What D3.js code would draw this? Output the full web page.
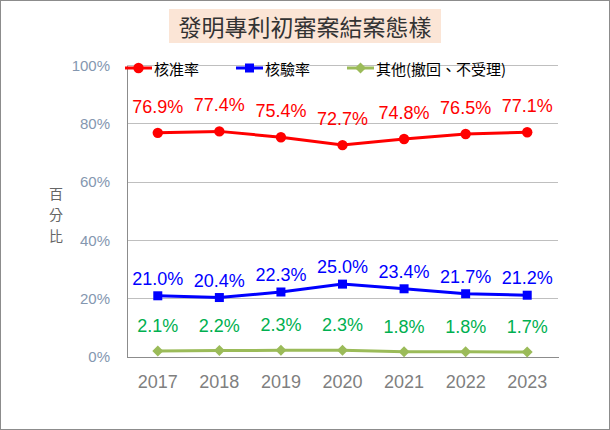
<!DOCTYPE html>
<html><head><meta charset="utf-8">
<script src="https://cdn.jsdelivr.net/npm/d3@7/dist/d3.min.js"></script>
<style>body{margin:0;background:#fff;}svg{display:block;}</style>
</head><body>
<svg id="chart" width="610" height="430"></svg>
<script>
const years = ["2017","2018","2019","2020","2021","2022","2023"];
const approveRate = [76.9,77.4,75.4,72.7,74.8,76.5,77.1];
const rejectRate = [21.0,20.4,22.3,25.0,23.4,21.7,21.2];
const otherRate = [2.1,2.2,2.3,2.3,1.8,1.8,1.7];
const yTicks = [0,20,40,60,80,100];
const seriesNames = ["核准率","核驗率","其他(撤回、不受理)"];
const titleText = "發明專利初審案結案態樣";
const yTitle = ["百","分","比"];

const svg = d3.select("#chart");
const W=610,H=430;
const m={l:127,r:52,t:65.5,b:73};
const x = d3.scaleBand().domain(years).range([m.l, W-m.r]).padding(0);
const y = d3.scaleLinear().domain([0,100]).range([H-m.b, m.t]);
const cx = d => x(d)+x.bandwidth()/2;
const num = "'Liberation Sans', Arial, sans-serif";
const cjk = "'Noto Sans CJK TC', 'Noto Sans CJK SC', sans-serif";

// outer border
svg.append("rect").attr("x",0.5).attr("y",0.5).attr("width",W-1).attr("height",H-1)
  .attr("fill","#fff").attr("stroke","#8c8c8c").attr("stroke-width",1);

// title
const tg = svg.append("g");
tg.append("rect").attr("x",169).attr("y",9).attr("width",272).attr("height",34).attr("fill","#FBE5D6");
tg.append("text").attr("x",305).attr("y",26).attr("text-anchor","middle").attr("dominant-baseline","central")
  .attr("font-family",cjk).attr("font-size",23).attr("fill","#333").text(titleText);

// gridlines
svg.append("g").selectAll("line").data(yTicks.filter(t=>t>0)).join("line")
  .attr("x1",m.l).attr("x2",W-m.r).attr("y1",d=>y(d)).attr("y2",d=>y(d))
  .attr("stroke","#bfbfbf").attr("stroke-width",1).attr("shape-rendering","crispEdges");

// y axis
const ya = svg.append("g").attr("transform",`translate(${m.l},0)`)
  .call(d3.axisLeft(y).tickValues(yTicks).tickSize(0).tickPadding(17).tickFormat(d=>d+"%"));
ya.select(".domain").attr("stroke","#8c8c8c").attr("shape-rendering","crispEdges");
ya.selectAll("text").attr("font-family",num).attr("font-size",15).attr("fill","#8497B0");

// x axis
const xa = svg.append("g").attr("transform",`translate(0,${H-m.b})`)
  .call(d3.axisBottom(x).tickSize(0).tickPadding(18));
xa.select(".domain").attr("stroke","#8c8c8c").attr("shape-rendering","crispEdges");
xa.selectAll("text").attr("font-family",num).attr("font-size",18).attr("fill","#7f7f7f");

// y title
svg.append("g").selectAll("text").data(yTitle).join("text")
  .attr("x",56).attr("y",(d,i)=>193+i*21).attr("text-anchor","middle").attr("dominant-baseline","central")
  .attr("font-family",cjk).attr("font-size",14).attr("fill","#666").text(d=>d);

const series = [
  {name:seriesNames[0], vals:approveRate, line:"#FF0000", lab:"#FF0000", shape:"circle", off:20},
  {name:seriesNames[1], vals:rejectRate, line:"#0000FF", lab:"#0000FF", shape:"square", off:11},
  {name:seriesNames[2], vals:otherRate, line:"#9BBB59", lab:"#00B050", shape:"diamond", off:19}
];
function marker(g, s, px, py){
  if(s.shape==="circle") g.append("circle").attr("cx",px).attr("cy",py).attr("r",5.2).attr("fill",s.line);
  else if(s.shape==="square") g.append("rect").attr("x",px-4.5).attr("y",py-4.5).attr("width",9).attr("height",9).attr("fill",s.line);
  else g.append("path").attr("d",`M${px},${py-5.5}L${px+5.5},${py}L${px},${py+5.5}L${px-5.5},${py}Z`).attr("fill",s.line);
}
const line = d3.line().x((d,i)=>cx(years[i])).y(d=>y(d));
series.forEach(s=>{
  const g = svg.append("g");
  g.append("path").attr("d",line(s.vals)).attr("fill","none").attr("stroke",s.line).attr("stroke-width",3);
  s.vals.forEach((v,i)=>marker(g,s,cx(years[i]),y(v)));
  g.selectAll("text").data(s.vals).join("text")
    .attr("x",(d,i)=>cx(years[i])).attr("y",d=>y(d)-s.off).attr("text-anchor","middle")
    .attr("font-family",num).attr("font-size",18).attr("fill",s.lab).text(d=>d.toFixed(1)+"%");
});

// legend
const legX = [125,236,347];
series.forEach((s,i)=>{
  const g = svg.append("g");
  const ly = 68;
  g.append("line").attr("x1",legX[i]).attr("x2",legX[i]+27).attr("y1",ly).attr("y2",ly).attr("stroke",s.line).attr("stroke-width",3);
  marker(g,s,legX[i]+13.5,ly);
  g.append("text").attr("x",legX[i]+29).attr("y",ly).attr("dominant-baseline","central")
    .attr("font-family",cjk).attr("font-size",15).attr("fill","#000").text(s.name);
});
</script>
</body></html>
